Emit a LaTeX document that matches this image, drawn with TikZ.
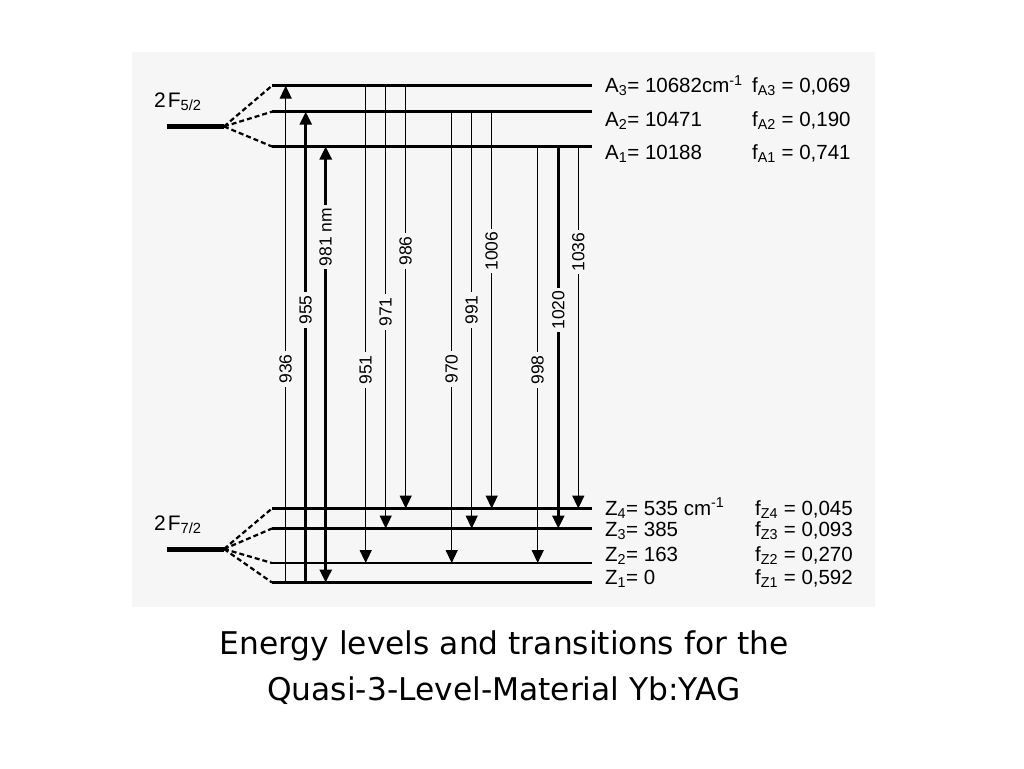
\documentclass[tikz,border=0pt]{standalone}
\usepackage{fontspec}
\setmainfont{Liberation Sans}
\newfontfamily\captionfont{DejaVu Sans}
\usetikzlibrary{arrows.meta}
\definecolor{scanbg}{gray}{0.965}
\tikzset{
  level/.style={line width=2.6pt},
  term/.style={line width=5pt},
  split/.style={line width=2.2pt, dash pattern=on 5pt off 3pt},
  transition/.style={line width=1.4pt, -{Triangle[length=13pt,width=12pt]}},
  strong/.style={transition, line width=2.8pt},
  wavelength/.style={rotate=90, fill=scanbg, inner xsep=3pt, inner ysep=1pt, font=\fontsize{17.5}{17.5}\selectfont},
  levellabel/.style={anchor=base west, inner sep=0pt, font=\fontsize{20.5}{20.5}\selectfont},
  termlabel/.style={anchor=base west, inner sep=0pt, font=\fontsize{21}{21}\selectfont}
}

\begin{document}
\begin{tikzpicture}[x=1pt,y=-1pt]
	%%%%% START %%%%%
	\useasboundingbox (0,0) rectangle (1024,768);
	\fill[scanbg] (132,52) rectangle (875,607);
	
	% Stark levels
	\coordinate (A3) at (0,85.7);
	\coordinate (A2) at (0,111.7);
	\coordinate (A1) at (0,146.5);
	\coordinate (Z4) at (0,508.5);
	\coordinate (Z3) at (0,528.5);
	\coordinate (Z2) at (0,563);
	\coordinate (Z1) at (0,582.5);
	
	\draw[level] (272,0 |- A3) -- (592,0 |- A3);
	\draw[level] (272,0 |- A2) -- (592,0 |- A2);
	\draw[level] (272,0 |- A1) -- (592,0 |- A1);
	\draw[level] (272,0 |- Z4) -- (592,0 |- Z4);
	\draw[level] (272,0 |- Z3) -- (592,0 |- Z3);
	\draw[level] (272,0 |- Z2) -- (592,0 |- Z2);
	\draw[level] (272,0 |- Z1) -- (592,0 |- Z1);
	
	% manifolds
	\coordinate (F52) at (224,126.5);
	\coordinate (F72) at (224,549);
	\draw[term] (167,126.5) -- (F52);
	\draw[term] (167,549) -- (F72);
	\draw[split] (F52) -- (272,0 |- A3);
	\draw[split] (F52) -- (272,0 |- A2);
	\draw[split] (F52) -- (272,0 |- A1);
	\draw[split] (F72) -- (272,0 |- Z4);
	\draw[split] (F72) -- (272,0 |- Z3);
	\draw[split] (F72) -- (272,0 |- Z2);
	\draw[split] (F72) -- (272,0 |- Z1);
	\node[termlabel] (t52) at (154,107) {2\kern2pt F\textsubscript{5/2}};
	\node[termlabel] (t72) at (154,530) {2\kern2pt F\textsubscript{7/2}};
	
	% absorption
	\draw[transition] (285.7,0 |- Z1) -- (285.7,0 |- A3);
	\draw[strong] (305.7,0 |- Z1) -- (305.7,0 |- A2);
	\draw[strong, {Triangle[length=13pt,width=12pt]}-{Triangle[length=13pt,width=12pt]}] (325.7,0 |- Z1) -- (325.7,0 |- A1);
	
	% emission
	\draw[transition] (365.7,0 |- A3) -- (365.7,0 |- Z2);
	\draw[transition] (385.7,0 |- A3) -- (385.7,0 |- Z3);
	\draw[transition] (405.7,0 |- A3) -- (405.7,0 |- Z4);
	\draw[transition] (451.7,0 |- A2) -- (451.7,0 |- Z2);
	\draw[transition] (471.7,0 |- A2) -- (471.7,0 |- Z3);
	\draw[transition] (491.7,0 |- A2) -- (491.7,0 |- Z4);
	\draw[transition] (537.7,0 |- A1) -- (537.7,0 |- Z2);
	\draw[strong] (558.3,0 |- A1) -- (558.3,0 |- Z3);
	\draw[transition] (578.3,0 |- A1) -- (578.3,0 |- Z4);
	
	% wavelengths
	\node[wavelength] (w936) at (285.7,369) {936};
	\node[wavelength] (w955) at (305.7,310) {955};
	\node[wavelength] (w981) at (325.7,237) {981 nm};
	\node[wavelength] (w951) at (365.7,370) {951};
	\node[wavelength] (w971) at (385.7,312) {971};
	\node[wavelength] (w986) at (405.7,251) {986};
	\node[wavelength] (w970) at (451.7,369) {970};
	\node[wavelength] (w991) at (471.7,310) {991};
	\node[wavelength] (w1006) at (491.7,251) {1006};
	\node[wavelength] (w998) at (537.7,370) {998};
	\node[wavelength] (w1020) at (558.3,310) {1020};
	\node[wavelength] (w1036) at (578.3,252) {1036};
	
	% energies and populations
	\node[levellabel] (eA3) at (605,92.7) {A\textsubscript{3}= 10682cm\textsuperscript{-1}};
	\node[levellabel] (eA2) at (605,126) {A\textsubscript{2}= 10471};
	\node[levellabel] (eA1) at (605,159) {A\textsubscript{1}= 10188};
	\node[levellabel] (fA3) at (752,92.7) {f\textsubscript{A3} = 0,069};
	\node[levellabel] (fA2) at (752,126) {f\textsubscript{A2} = 0,190};
	\node[levellabel] (fA1) at (752,159) {f\textsubscript{A1} = 0,741};
	\node[levellabel] (eZ4) at (605,515) {Z\textsubscript{4}= 535 cm\textsuperscript{-1}};
	\node[levellabel] (eZ3) at (605,536) {Z\textsubscript{3}= 385};
	\node[levellabel] (eZ2) at (605,561) {Z\textsubscript{2}= 163};
	\node[levellabel] (eZ1) at (605,584) {Z\textsubscript{1}= 0};
	\node[levellabel] (fZ4) at (755,515) {f\textsubscript{Z4} = 0,045};
	\node[levellabel] (fZ3) at (755,536) {f\textsubscript{Z3} = 0,093};
	\node[levellabel] (fZ2) at (755,561) {f\textsubscript{Z2} = 0,270};
	\node[levellabel] (fZ1) at (755,584) {f\textsubscript{Z1} = 0,592};
	
	% caption
	\node[anchor=base, font=\captionfont\fontsize{31.3}{31.3}\selectfont] (cap1) at (504,654) {Energy levels and transitions for the};
	\node[anchor=base, font=\captionfont\fontsize{31.3}{31.3}\selectfont] (cap2) at (504,700) {Quasi-3-Level-Material Yb:YAG};
	%%%%% END %%%%%
\end{tikzpicture}
\end{document}
